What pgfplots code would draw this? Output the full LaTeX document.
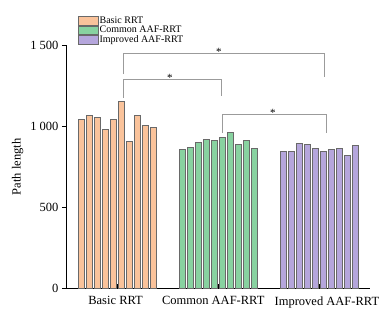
\documentclass[border=0pt]{standalone}
\usepackage{pgfplots}
\pgfplotsset{compat=1.18}
\usepackage{fontspec}
\setmainfont{Liberation Serif}
\definecolor{cO}{RGB}{250,195,155}
\definecolor{cG}{RGB}{136,210,160}
\definecolor{cP}{RGB}{181,166,220}
\definecolor{cE}{RGB}{105,105,105}
\definecolor{cB}{RGB}{155,155,155}
\newcommand{\lf}{\fontsize{10}{10}\selectfont}
\begin{document}
\begin{tikzpicture}
\begin{axis}[
  at={(0,0)}, anchor=south west,
  scale only axis, width=303.5pt, height=243pt,
  xmin=0.5, xmax=3.5, ymin=0, ymax=1500,
  axis x line=bottom, axis y line=left,
  axis line style={-, line width=0.8pt, black},
  xtick={1,2,3}, xticklabels={\hspace*{-3pt}Basic RRT, \hspace*{-10pt}Common AAF-RRT, \hspace*{15pt}Improved AAF-RRT},
  ytick={0,500,1000,1500}, yticklabels={0,500,1 000,1 500},
  tick align=outside, major tick length=4.5pt,
  tick style={black, line width=0.8pt},
  every x tick/.append style={yshift=4.5pt},
  ticklabel style={font=\fontsize{12.5}{14}\selectfont},
  ylabel={Path length},
  ylabel style={font=\fontsize{12.5}{14}\selectfont, at={(axis description cs:-0.142,0.5)}, anchor=south, inner sep=0pt},
  ybar, bar width=0.059,
  legend style={at={(0.038,1.121)}, anchor=north west, draw=none, fill=none,
    row sep=0pt, inner sep=0pt, font=\lf,
    nodes={inner sep=0.6pt, anchor=west}},
  legend cell align=left,
]
\addplot[bar shift=0pt, fill=cO, draw=cE, line width=1pt,
  legend image code/.code={\draw[fill=cO, draw=cE, line width=0.8pt] (0pt,-4.2pt) rectangle (20pt,4.2pt);}]
coordinates {(0.644,1046) (0.723,1069) (0.802,1057) (0.881,981) (0.960,1046)
 (1.040,1157) (1.119,910) (1.198,1069) (1.277,1007) (1.356,995)};
\addlegendentry{\lf Basic RRT}
\addplot[bar shift=0pt, fill=cG, draw=cE, line width=1pt,
  legend image code/.code={\draw[fill=cG, draw=cE, line width=0.8pt] (0pt,-4.2pt) rectangle (20pt,4.2pt);}]
coordinates {(1.644,855) (1.723,872) (1.802,902) (1.881,921) (1.960,915)
 (2.040,929) (2.119,962) (2.198,890) (2.277,915) (2.356,867)};
\addlegendentry{\lf Common AAF-RRT}
\addplot[bar shift=0pt, fill=cP, draw=cE, line width=1pt,
  legend image code/.code={\draw[fill=cP, draw=cE, line width=0.8pt] (0pt,-4.2pt) rectangle (20pt,4.2pt);}]
coordinates {(2.644,844) (2.723,847) (2.802,892) (2.881,890) (2.960,865)
 (3.040,847) (3.119,857) (3.198,867) (3.277,822) (3.356,880)};
\addlegendentry{\lf Improved AAF-RRT}
\draw[cB, line width=0.8pt] (axis cs:1.061,1324) |- (axis cs:3.048,1452) -- (axis cs:3.048,1307);
\draw[cB, line width=0.8pt] (axis cs:1.061,1176) |- (axis cs:2.027,1293) -- (axis cs:2.027,1190);
\draw[cB, line width=0.8pt] (axis cs:2.040,960) |- (axis cs:3.065,1075) -- (axis cs:3.065,960);
\node[anchor=base, inner sep=0pt, font=\fontsize{11}{11}\selectfont, yshift=-2pt] at (axis cs:2.007,1452) {*};
\node[anchor=base, inner sep=0pt, font=\fontsize{11}{11}\selectfont, yshift=-2pt] at (axis cs:1.523,1293) {*};
\node[anchor=base, inner sep=0pt, font=\fontsize{11}{11}\selectfont, yshift=-2pt] at (axis cs:2.541,1075) {*};
\end{axis}
\pgfresetboundingbox
\path[use as bounding box] (-66.5pt,-23.5pt) rectangle (322.5pt,288.5pt);
\end{tikzpicture}
\end{document}
